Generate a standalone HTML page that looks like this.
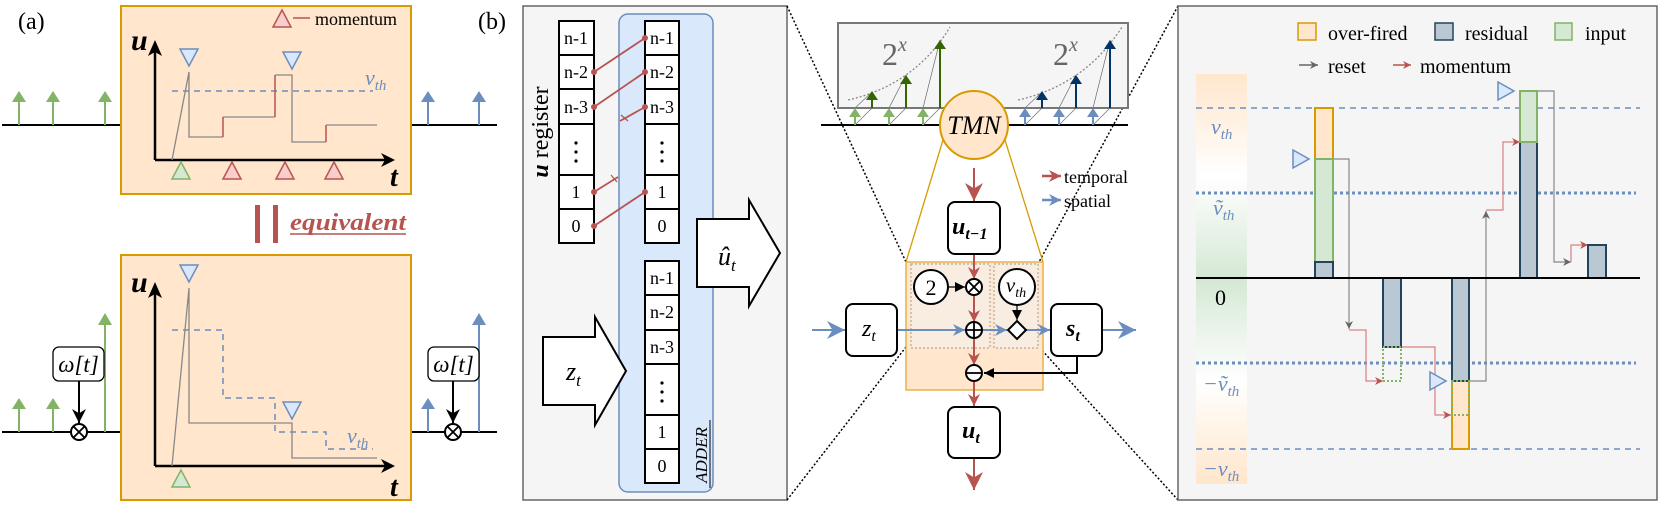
<!DOCTYPE html>
<html><head><meta charset="utf-8"><style>
html,body{margin:0;padding:0;background:#fff;}
svg{display:block;font-family:"Liberation Serif",serif;}
text{font-family:"Liberation Serif",serif;}
</style></head><body>
<svg width="1662" height="508" viewBox="0 0 1662 508" xmlns="http://www.w3.org/2000/svg" font-family="Liberation Serif, serif">
<defs>
<marker id="ak" viewBox="0 0 10 10" refX="10" refY="5" markerWidth="10" markerHeight="10" markerUnits="userSpaceOnUse" orient="auto"><path d="M0,0L10,5L0,10z" fill="#000"/></marker>
<marker id="akb" viewBox="0 0 10 10" refX="10" refY="5" markerWidth="14" markerHeight="14" markerUnits="userSpaceOnUse" orient="auto"><path d="M0,0L10,5L0,10L3,5z" fill="#000"/></marker>
<marker id="ar" viewBox="0 0 10 10" refX="10" refY="5" markerWidth="12" markerHeight="12" markerUnits="userSpaceOnUse" orient="auto"><path d="M0,0L10,5L0,10L3,5z" fill="#b85450"/></marker>
<marker id="arB" viewBox="0 0 10 10" refX="10" refY="5" markerWidth="18" markerHeight="18" markerUnits="userSpaceOnUse" orient="auto"><path d="M0,0L10,5L0,10L3,5z" fill="#b85450"/></marker>
<marker id="ab" viewBox="0 0 10 10" refX="10" refY="5" markerWidth="12" markerHeight="12" markerUnits="userSpaceOnUse" orient="auto"><path d="M0,0L10,5L0,10L3,5z" fill="#6c8ebf"/></marker>
<marker id="abB" viewBox="0 0 10 10" refX="10" refY="5" markerWidth="18" markerHeight="18" markerUnits="userSpaceOnUse" orient="auto"><path d="M0,0L10,5L0,10L3,5z" fill="#6c8ebf"/></marker>
<marker id="agS" viewBox="0 0 10 10" refX="10" refY="5" markerWidth="8" markerHeight="8" markerUnits="userSpaceOnUse" orient="auto"><path d="M0,0L10,5L0,10L3,5z" fill="#666"/></marker>
<marker id="arS" viewBox="0 0 10 10" refX="10" refY="5" markerWidth="8" markerHeight="8" markerUnits="userSpaceOnUse" orient="auto"><path d="M0,0L10,5L0,10L3,5z" fill="#b85450"/></marker>
<linearGradient id="gbar" x1="0" y1="0" x2="0" y2="1">
<stop offset="0" stop-color="#ffe6cc"/><stop offset="0.25" stop-color="#fff"/><stop offset="0.5" stop-color="#d5e8d4"/><stop offset="0.75" stop-color="#fff"/><stop offset="1" stop-color="#ffe6cc"/>
</linearGradient>
</defs>

<!-- ===== Panel (a) ===== -->
<text x="18" y="29" font-size="24">(a)</text>
<line x1="2" y1="125" x2="121" y2="125" stroke="#000" stroke-width="2"/>
<line x1="411" y1="125" x2="497" y2="125" stroke="#000" stroke-width="2"/>
<g stroke="#82b366" stroke-width="2" fill="#82b366">
<line x1="19" y1="125" x2="19" y2="98"/><polygon points="12,102 19,91 26,102" stroke="none"/>
<line x1="53" y1="125" x2="53" y2="98"/><polygon points="46,102 53,91 60,102" stroke="none"/>
<line x1="105" y1="125" x2="105" y2="98"/><polygon points="98,102 105,91 112,102" stroke="none"/>
</g>
<g stroke="#6c8ebf" stroke-width="2" fill="#6c8ebf">
<line x1="428" y1="125" x2="428" y2="98"/><polygon points="421,102 428,91 435,102" stroke="none"/>
<line x1="479" y1="125" x2="479" y2="98"/><polygon points="472,102 479,91 486,102" stroke="none"/>
</g>
<rect x="121" y="6" width="290" height="188" fill="#ffe6cc" stroke="#d79b00" stroke-width="2"/>
<line x1="155" y1="160" x2="155" y2="52" stroke="#000" stroke-width="2.5"/>
<polygon points="148,56 155,40 162,56 155,52" fill="#000"/>
<line x1="155" y1="160" x2="385" y2="160" stroke="#000" stroke-width="2.5"/>
<polygon points="381,153 395,160 381,167 385,160" fill="#000"/>
<text x="131" y="50" font-size="30" font-style="italic" font-weight="bold">u</text>
<text x="390" y="186" font-size="28" font-style="italic" font-weight="bold">t</text>
<line x1="172" y1="91" x2="373" y2="91" stroke="#6c8ebf" stroke-width="1.5" stroke-dasharray="6,5"/>
<text x="365" y="85" font-size="22" font-style="italic" fill="#6c8ebf">v<tspan font-size="15" dy="5">th</tspan></text>
<polyline points="172,160 189,72 189,137 223,137" fill="none" stroke="#888" stroke-width="1.3"/>
<line x1="223" y1="137" x2="223" y2="117" stroke="#b85450" stroke-width="1.5"/>
<line x1="223" y1="117" x2="275" y2="117" stroke="#888" stroke-width="1.3"/>
<line x1="275" y1="117" x2="275" y2="75" stroke="#b85450" stroke-width="1.5"/>
<polyline points="275,75 292,75 292,142 326,142" fill="none" stroke="#888" stroke-width="1.3"/>
<line x1="326" y1="142" x2="326" y2="125" stroke="#b85450" stroke-width="1.5"/>
<line x1="326" y1="125" x2="377" y2="125" stroke="#888" stroke-width="1.3"/>
<polygon points="180,49 198,49 189,66" fill="#dae8fc" stroke="#6c8ebf" stroke-width="1.5"/>
<polygon points="283,52 301,52 292,69" fill="#dae8fc" stroke="#6c8ebf" stroke-width="1.5"/>
<polygon points="172,179 190,179 181,162" fill="#d5e8d4" stroke="#82b366" stroke-width="1.5"/>
<polygon points="223,179 241,179 232,162" fill="#f8cecc" stroke="#b85450" stroke-width="1.5"/>
<polygon points="276,179 294,179 285,162" fill="#f8cecc" stroke="#b85450" stroke-width="1.5"/>
<polygon points="325,179 343,179 334,162" fill="#f8cecc" stroke="#b85450" stroke-width="1.5"/>
<polygon points="273,27 291,27 282,10" fill="#f8cecc" stroke="#b85450" stroke-width="1.5"/>
<line x1="293" y1="18" x2="310" y2="18" stroke="#b85450" stroke-width="1.5"/>
<text x="315" y="25" font-size="18">momentum</text>

<rect x="255" y="205" width="5" height="38" fill="#b85450"/>
<rect x="273" y="205" width="5" height="38" fill="#b85450"/>
<text x="290" y="230" font-size="24" font-style="italic" font-weight="bold" fill="#b85450" textLength="116" lengthAdjust="spacingAndGlyphs">equivalent</text>
<line x1="290" y1="234" x2="406" y2="234" stroke="#b85450" stroke-width="1.5"/>

<line x1="2" y1="432" x2="121" y2="432" stroke="#000" stroke-width="2"/>
<line x1="411" y1="432" x2="497" y2="432" stroke="#000" stroke-width="2"/>
<g stroke="#82b366" stroke-width="2" fill="#82b366">
<line x1="19" y1="432" x2="19" y2="405"/><polygon points="12,409 19,398 26,409" stroke="none"/>
<line x1="53" y1="432" x2="53" y2="405"/><polygon points="46,409 53,398 60,409" stroke="none"/>
<line x1="105" y1="432" x2="105" y2="320"/><polygon points="98,325 105,313 112,325" stroke="none"/>
</g>
<g stroke="#6c8ebf" stroke-width="2" fill="#6c8ebf">
<line x1="428" y1="432" x2="428" y2="405"/><polygon points="421,409 428,398 435,409" stroke="none"/>
<line x1="479" y1="432" x2="479" y2="320"/><polygon points="472,325 479,313 486,325" stroke="none"/>
</g>
<rect x="53" y="347" width="51" height="34" rx="6" fill="#fff" stroke="#000" stroke-width="1.3"/>
<text x="78.5" y="372" font-size="23" font-style="italic" text-anchor="middle">ω[t]</text>
<line x1="79" y1="381" x2="79" y2="423" stroke="#000" stroke-width="2" marker-end="url(#akb)"/>
<circle cx="79" cy="432" r="8" fill="#fff" stroke="#000" stroke-width="2"/>
<path d="M73.3,426.3L84.7,437.7M84.7,426.3L73.3,437.7" stroke="#000" stroke-width="1.8"/>
<rect x="428" y="347" width="51" height="34" rx="6" fill="#fff" stroke="#000" stroke-width="1.3"/>
<text x="453.5" y="372" font-size="23" font-style="italic" text-anchor="middle">ω[t]</text>
<line x1="453" y1="381" x2="453" y2="423" stroke="#000" stroke-width="2" marker-end="url(#akb)"/>
<circle cx="453" cy="432" r="8" fill="#fff" stroke="#000" stroke-width="2"/>
<path d="M447.3,426.3L458.7,437.7M458.7,426.3L447.3,437.7" stroke="#000" stroke-width="1.8"/>
<rect x="121" y="255" width="290" height="245" fill="#ffe6cc" stroke="#d79b00" stroke-width="2"/>
<line x1="155" y1="466" x2="155" y2="294" stroke="#000" stroke-width="2.5"/>
<polygon points="148,298 155,282 162,298 155,294" fill="#000"/>
<line x1="155" y1="466" x2="385" y2="466" stroke="#000" stroke-width="2.5"/>
<polygon points="381,459 395,466 381,473 385,466" fill="#000"/>
<text x="131" y="292" font-size="30" font-style="italic" font-weight="bold">u</text>
<text x="390" y="496" font-size="28" font-style="italic" font-weight="bold">t</text>
<polyline points="172,330 223,330 223,398 275,398 275,432 326,432 326,449 373,449" fill="none" stroke="#6c8ebf" stroke-width="1.5" stroke-dasharray="6,5"/>
<text x="347" y="443" font-size="22" font-style="italic" fill="#6c8ebf">v<tspan font-size="15" dy="5">th</tspan></text>
<polyline points="172,466 189,288 189,423 292,423 292,458 377,458" fill="none" stroke="#888" stroke-width="1.3"/>
<polygon points="180,265 198,265 189,282" fill="#dae8fc" stroke="#6c8ebf" stroke-width="1.5"/>
<polygon points="283,402 301,402 292,419" fill="#dae8fc" stroke="#6c8ebf" stroke-width="1.5"/>
<polygon points="172,487 190,487 181,470" fill="#d5e8d4" stroke="#82b366" stroke-width="1.5"/>

<!-- ===== Panel (b) ===== -->
<text x="478" y="29" font-size="24">(b)</text>
<rect x="523" y="6" width="264" height="494" fill="#f5f5f5" stroke="#666" stroke-width="1.5"/>
<rect x="619" y="14" width="94" height="478" rx="9" fill="#dae8fc" stroke="#6c8ebf" stroke-width="1.5"/>
<text transform="translate(548,132) rotate(-90)" font-size="24" text-anchor="middle"><tspan font-style="italic" font-weight="bold">u</tspan> register</text>
<text transform="translate(707,455) rotate(-90)" font-size="17" font-style="italic" text-anchor="middle">ADDER</text>
<line x1="710" y1="420" x2="710" y2="488" stroke="#000" stroke-width="1"/>
<g fill="#fff" stroke="#000" stroke-width="2">
<rect x="559" y="21" width="35" height="34"/><rect x="559" y="55" width="35" height="34"/><rect x="559" y="89" width="35" height="35"/><rect x="559" y="124" width="35" height="51"/><rect x="559" y="175" width="35" height="34"/><rect x="559" y="209" width="35" height="34"/>
<rect x="645" y="21" width="34" height="34"/><rect x="645" y="55" width="34" height="34"/><rect x="645" y="89" width="34" height="35"/><rect x="645" y="124" width="34" height="51"/><rect x="645" y="175" width="34" height="34"/><rect x="645" y="209" width="34" height="34"/>
<rect x="645" y="261" width="34" height="34"/><rect x="645" y="295" width="34" height="35"/><rect x="645" y="330" width="34" height="34"/><rect x="645" y="364" width="34" height="51"/><rect x="645" y="415" width="34" height="34"/><rect x="645" y="449" width="34" height="34"/>
</g>
<g font-size="18" text-anchor="middle">
<text x="576" y="44">n-1</text><text x="576" y="78">n-2</text><text x="576" y="113">n-3</text><text x="576" y="198">1</text><text x="576" y="232">0</text>
<text x="662" y="44">n-1</text><text x="662" y="78">n-2</text><text x="662" y="113">n-3</text><text x="662" y="198">1</text><text x="662" y="232">0</text>
<text x="662" y="284">n-1</text><text x="662" y="318">n-2</text><text x="662" y="353">n-3</text><text x="662" y="438">1</text><text x="662" y="472">0</text>
</g>
<g fill="#000"><circle cx="576" cy="143" r="1.6"/><circle cx="576" cy="152" r="1.6"/><circle cx="576" cy="161" r="1.6"/>
<circle cx="662" cy="143" r="1.6"/><circle cx="662" cy="152" r="1.6"/><circle cx="662" cy="161" r="1.6"/>
<circle cx="662" cy="383" r="1.6"/><circle cx="662" cy="392" r="1.6"/><circle cx="662" cy="401" r="1.6"/></g>
<g stroke="#b85450" stroke-width="1.8" fill="#b85450">
<line x1="594" y1="72" x2="645" y2="38"/><circle cx="594" cy="72" r="3" stroke="none"/><circle cx="645" cy="38" r="3" stroke="none"/>
<line x1="594" y1="107" x2="645" y2="72"/><circle cx="594" cy="107" r="3" stroke="none"/><circle cx="645" cy="72" r="3" stroke="none"/>
<line x1="620" y1="121" x2="645" y2="107"/><circle cx="645" cy="107" r="3" stroke="none"/><line x1="621" y1="115" x2="628" y2="121" stroke-width="1.3"/>
<line x1="594" y1="192" x2="618" y2="177"/><circle cx="594" cy="192" r="3" stroke="none"/><line x1="611" y1="175" x2="617" y2="182" stroke-width="1.3"/>
<line x1="594" y1="226" x2="645" y2="192"/><circle cx="594" cy="226" r="3" stroke="none"/><circle cx="645" cy="192" r="3" stroke="none"/>
</g>
<polygon points="543,337 595,337 595,317 626,371 595,425 595,405 543,405" fill="#fff" stroke="#000" stroke-width="2"/>
<text x="566" y="380" font-size="26" font-style="italic">z<tspan font-size="17" dy="6">t</tspan></text>
<polygon points="697,219 749,219 749,200 780,253 749,306 749,287 697,287" fill="#fff" stroke="#000" stroke-width="2"/>
<text x="718" y="265" font-size="26" font-style="italic">û<tspan font-size="17" dy="6">t</tspan></text>

<g stroke="#000" stroke-width="1.5" stroke-dasharray="2,2" fill="none">
<line x1="787" y1="6" x2="906" y2="262"/>
<line x1="787" y1="500" x2="906" y2="347"/>
<line x1="1178" y1="6" x2="1039" y2="262"/>
<line x1="1178" y1="500" x2="1039" y2="347"/>
</g>

<line x1="821" y1="125" x2="1128" y2="125" stroke="#000" stroke-width="2"/>
<rect x="838" y="23" width="290" height="85" fill="#f5f5f5" stroke="#777" stroke-width="2"/>
<text x="882" y="65" font-size="32" fill="#666">2<tspan font-size="20" font-style="italic" dy="-14">x</tspan></text>
<text x="1053" y="65" font-size="32" fill="#666">2<tspan font-size="20" font-style="italic" dy="-14">x</tspan></text>
<path d="M848,100 Q915,85 950,27" fill="none" stroke="#888" stroke-width="1.3" stroke-dasharray="2,2"/>
<path d="M1018,100 Q1085,85 1122,27" fill="none" stroke="#888" stroke-width="1.3" stroke-dasharray="2,2"/>
<g stroke="#777" stroke-width="0.8">
<line x1="855" y1="125" x2="872" y2="108"/><line x1="855" y1="108" x2="872" y2="92"/>
<line x1="889" y1="125" x2="906" y2="108"/><line x1="889" y1="108" x2="906" y2="75"/>
<line x1="923" y1="125" x2="940" y2="108"/><line x1="923" y1="108" x2="940" y2="40"/>
<line x1="1025" y1="125" x2="1042" y2="108"/><line x1="1025" y1="108" x2="1042" y2="92"/>
<line x1="1059" y1="125" x2="1076" y2="108"/><line x1="1059" y1="108" x2="1076" y2="75"/>
<line x1="1093" y1="125" x2="1110" y2="108"/><line x1="1093" y1="108" x2="1110" y2="40"/>
</g>
<g stroke-width="2">
<g stroke="#82b366" fill="#82b366"><line x1="855" y1="125" x2="855" y2="114"/><polygon points="849,117 855,108 861,117" stroke="none"/>
<line x1="889" y1="125" x2="889" y2="114"/><polygon points="883,117 889,108 895,117" stroke="none"/>
<line x1="923" y1="125" x2="923" y2="114"/><polygon points="917,117 923,108 929,117" stroke="none"/></g>
<g stroke="#336600" fill="#336600"><line x1="872" y1="108" x2="872" y2="97"/><polygon points="866,100 872,91 878,100" stroke="none"/>
<line x1="906" y1="108" x2="906" y2="81"/><polygon points="900,84 906,75 912,84" stroke="none"/>
<line x1="940" y1="108" x2="940" y2="46"/><polygon points="934,49 940,40 946,49" stroke="none"/></g>
<g stroke="#6c8ebf" fill="#6c8ebf"><line x1="1025" y1="125" x2="1025" y2="114"/><polygon points="1019,117 1025,108 1031,117" stroke="none"/>
<line x1="1059" y1="125" x2="1059" y2="114"/><polygon points="1053,117 1059,108 1065,117" stroke="none"/>
<line x1="1093" y1="125" x2="1093" y2="114"/><polygon points="1087,117 1093,108 1099,117" stroke="none"/></g>
<g stroke="#003366" fill="#003366"><line x1="1042" y1="108" x2="1042" y2="97"/><polygon points="1036,100 1042,91 1048,100" stroke="none"/>
<line x1="1076" y1="108" x2="1076" y2="81"/><polygon points="1070,84 1076,75 1082,84" stroke="none"/>
<line x1="1110" y1="108" x2="1110" y2="46"/><polygon points="1104,49 1110,40 1116,49" stroke="none"/></g>
</g>
<line x1="943" y1="140" x2="906" y2="262" stroke="#d79b00" stroke-width="1.3"/>
<line x1="1005" y1="140" x2="1043" y2="262" stroke="#d79b00" stroke-width="1.3"/>
<circle cx="974" cy="125" r="34" fill="#ffe6cc" stroke="#d79b00" stroke-width="2"/>
<text x="974" y="134" font-size="26" font-style="italic" text-anchor="middle">TMN</text>

<line x1="1042" y1="176" x2="1061" y2="176" stroke="#b85450" stroke-width="2.5" marker-end="url(#ar)"/>
<text x="1064" y="183" font-size="18">temporal</text>
<line x1="1042" y1="200" x2="1061" y2="200" stroke="#6c8ebf" stroke-width="2.5" marker-end="url(#ab)"/>
<text x="1064" y="207" font-size="18">spatial</text>

<rect x="906" y="262" width="137" height="128" fill="#ffe6cc" stroke="#e8b04a" stroke-width="1.5"/>
<rect x="911" y="264" width="79" height="84" fill="#f9ece0" stroke="#aaa" stroke-width="1.2" stroke-dasharray="2,2"/>
<rect x="994" y="264" width="44" height="84" fill="#f9ece0" stroke="#aaa" stroke-width="1.2" stroke-dasharray="2,2"/>

<line x1="974" y1="168" x2="974" y2="201" stroke="#b85450" stroke-width="2" marker-end="url(#arB)"/>
<line x1="974" y1="254" x2="974" y2="279" stroke="#b85450" stroke-width="2" marker-end="url(#ar)"/>
<line x1="974" y1="295" x2="974" y2="322" stroke="#b85450" stroke-width="2" marker-end="url(#ar)"/>
<line x1="974" y1="338" x2="974" y2="365" stroke="#b85450" stroke-width="2" marker-end="url(#ar)"/>
<line x1="974" y1="381" x2="974" y2="406" stroke="#b85450" stroke-width="2" marker-end="url(#ar)"/>
<line x1="974" y1="458" x2="974" y2="490" stroke="#b85450" stroke-width="2" marker-end="url(#arB)"/>
<line x1="812" y1="330" x2="845" y2="330" stroke="#6c8ebf" stroke-width="2" marker-end="url(#abB)"/>
<line x1="897" y1="330" x2="965" y2="330" stroke="#6c8ebf" stroke-width="2" marker-end="url(#ab)"/>
<line x1="982" y1="330" x2="1007" y2="330" stroke="#6c8ebf" stroke-width="2" marker-end="url(#ab)"/>
<line x1="1026" y1="330" x2="1050" y2="330" stroke="#6c8ebf" stroke-width="2" marker-end="url(#ab)"/>
<line x1="1102" y1="330" x2="1136" y2="330" stroke="#6c8ebf" stroke-width="2" marker-end="url(#abB)"/>
<polyline points="1077,356 1077,373 984,373" fill="none" stroke="#000" stroke-width="2" marker-end="url(#ak)"/>
<line x1="947" y1="287" x2="965" y2="287" stroke="#000" stroke-width="1.2" marker-end="url(#ak)"/>
<line x1="1017" y1="305" x2="1017" y2="320" stroke="#000" stroke-width="1.2" marker-end="url(#ak)"/>

<circle cx="931" cy="287" r="17" fill="#fff" stroke="#000" stroke-width="2"/>
<text x="931" y="295" font-size="22" text-anchor="middle">2</text>
<circle cx="1017" cy="287" r="18" fill="#fff" stroke="#000" stroke-width="2"/>
<text x="1016" y="292" font-size="21" font-style="italic" text-anchor="middle">v<tspan font-size="14" dy="5">th</tspan></text>
<circle cx="974" cy="287" r="8" fill="#fff" stroke="#000" stroke-width="2"/>
<path d="M968.3,281.3L979.7,292.7M979.7,281.3L968.3,292.7" stroke="#000" stroke-width="1.8"/>
<circle cx="974" cy="330" r="8" fill="#fff" stroke="#000" stroke-width="2"/>
<path d="M966,330H982M974,322V338" stroke="#000" stroke-width="1.8"/>
<circle cx="974" cy="373" r="8" fill="#fff" stroke="#000" stroke-width="2"/>
<path d="M966,373H982" stroke="#000" stroke-width="1.8"/>
<polygon points="1017,321 1026,330 1017,339 1008,330" fill="#fff" stroke="#000" stroke-width="2"/>

<rect x="948" y="202" width="52" height="52" rx="7" fill="#fff" stroke="#000" stroke-width="2"/>
<text x="952" y="234" font-size="24" font-style="italic" font-weight="bold">u<tspan font-size="16" dy="5">t−1</tspan></text>
<rect x="846" y="304" width="51" height="52" rx="7" fill="#fff" stroke="#000" stroke-width="2"/>
<text x="862" y="336" font-size="24" font-style="italic">z<tspan font-size="16" dy="5">t</tspan></text>
<rect x="1051" y="304" width="51" height="52" rx="7" fill="#fff" stroke="#000" stroke-width="2"/>
<text x="1066" y="336" font-size="24" font-style="italic" font-weight="bold">s<tspan font-size="16" dy="5">t</tspan></text>
<rect x="948" y="407" width="52" height="51" rx="7" fill="#fff" stroke="#000" stroke-width="2"/>
<text x="962" y="438" font-size="24" font-style="italic" font-weight="bold">u<tspan font-size="16" dy="5">t</tspan></text>

<!-- ===== Panel (c) ===== -->
<rect x="1178" y="6" width="479" height="494" fill="#f5f5f5" stroke="#666" stroke-width="1.5"/>
<rect x="1196" y="74" width="51" height="410" fill="url(#gbar)"/>
<rect x="1298" y="23" width="18" height="17" fill="#ffe6cc" stroke="#d79b00" stroke-width="1.5"/>
<text x="1328" y="40" font-size="20">over-fired</text>
<rect x="1435" y="23" width="18" height="17" fill="#bac8d3" stroke="#23445d" stroke-width="1.5"/>
<text x="1465" y="40" font-size="20">residual</text>
<rect x="1555" y="23" width="17" height="17" fill="#d5e8d4" stroke="#82b366" stroke-width="1.5"/>
<text x="1585" y="40" font-size="20">input</text>
<line x1="1299" y1="65" x2="1318" y2="65" stroke="#666" stroke-width="1.5" marker-end="url(#agS)"/>
<text x="1328" y="73" font-size="20">reset</text>
<line x1="1393" y1="65" x2="1411" y2="65" stroke="#b85450" stroke-width="1.5" marker-end="url(#arS)"/>
<text x="1420" y="73" font-size="20">momentum</text>

<line x1="1196" y1="108" x2="1640" y2="108" stroke="#6c8ebf" stroke-width="1.5" stroke-dasharray="6,5"/>
<line x1="1196" y1="193" x2="1636" y2="193" stroke="#6c8ebf" stroke-width="3" stroke-dasharray="3,3"/>
<line x1="1196" y1="363" x2="1636" y2="363" stroke="#6c8ebf" stroke-width="3" stroke-dasharray="3,3"/>
<line x1="1196" y1="449" x2="1640" y2="449" stroke="#6c8ebf" stroke-width="1.5" stroke-dasharray="6,5"/>

<g font-size="22" font-style="italic" fill="#6c8ebf">
<text x="1211" y="134">v<tspan font-size="15" dy="5">th</tspan></text>
<text x="1213" y="215">ṽ<tspan font-size="15" dy="5">th</tspan></text>
<text x="1203" y="391">−ṽ<tspan font-size="15" dy="5">th</tspan></text>
<text x="1203" y="476">−v<tspan font-size="15" dy="5">th</tspan></text>
</g>
<text x="1215" y="305" font-size="22">0</text>

<g fill="none" stroke-width="1.2">
<polyline points="1333,159 1349,159 1349,329" stroke="#888" marker-end="url(#agS)"/>
<polyline points="1349,330 1366,330 1366,381 1383,381" stroke="#d98080" marker-end="url(#arS)"/>
<polyline points="1401,347 1435,347 1435,415 1451,415" stroke="#d98080" marker-end="url(#arS)"/>
<polyline points="1469,381 1486,381 1486,211" stroke="#888" marker-end="url(#agS)"/>
<polyline points="1486,210 1503,210 1503,142 1520,142" stroke="#d98080" marker-end="url(#arS)"/>
<polyline points="1537,91 1554,91 1554,262 1571,262" stroke="#888" marker-end="url(#agS)"/>
<polyline points="1571,262 1571,245 1588,245" stroke="#d98080" marker-end="url(#arS)"/>
</g>

<g stroke-width="2">
<rect x="1315" y="108" width="18" height="51" fill="#ffe6cc" stroke="#d79b00"/>
<rect x="1315" y="159" width="18" height="103" fill="#d5e8d4" stroke="#82b366"/>
<rect x="1315" y="262" width="18" height="16" fill="#bac8d3" stroke="#23445d"/>
<rect x="1383" y="278" width="18" height="69" fill="#bac8d3" stroke="#23445d"/>
<rect x="1383" y="347" width="18" height="34" fill="none" stroke="#82b366" stroke-dasharray="2,2"/>
<rect x="1452" y="381" width="17" height="68" fill="#ffe6cc" stroke="#d79b00"/>
<rect x="1452" y="278" width="17" height="103" fill="#bac8d3" stroke="#23445d"/>
<rect x="1452" y="381" width="17" height="34" fill="none" stroke="#82b366" stroke-dasharray="2,2"/>
<rect x="1520" y="142" width="17" height="136" fill="#bac8d3" stroke="#23445d"/>
<rect x="1520" y="91" width="17" height="51" fill="#d5e8d4" stroke="#82b366"/>
<rect x="1588" y="245" width="18" height="33" fill="#bac8d3" stroke="#23445d"/>
</g>
<line x1="1196" y1="278" x2="1640" y2="278" stroke="#000" stroke-width="2"/>
<polygon points="1293,150 1293,168 1309,159" fill="#dae8fc" stroke="#6c8ebf" stroke-width="1.5"/>
<polygon points="1430,372 1430,390 1446,381" fill="#dae8fc" stroke="#6c8ebf" stroke-width="1.5"/>
<polygon points="1498,82 1498,100 1514,91" fill="#dae8fc" stroke="#6c8ebf" stroke-width="1.5"/>
</svg>
</body></html>
